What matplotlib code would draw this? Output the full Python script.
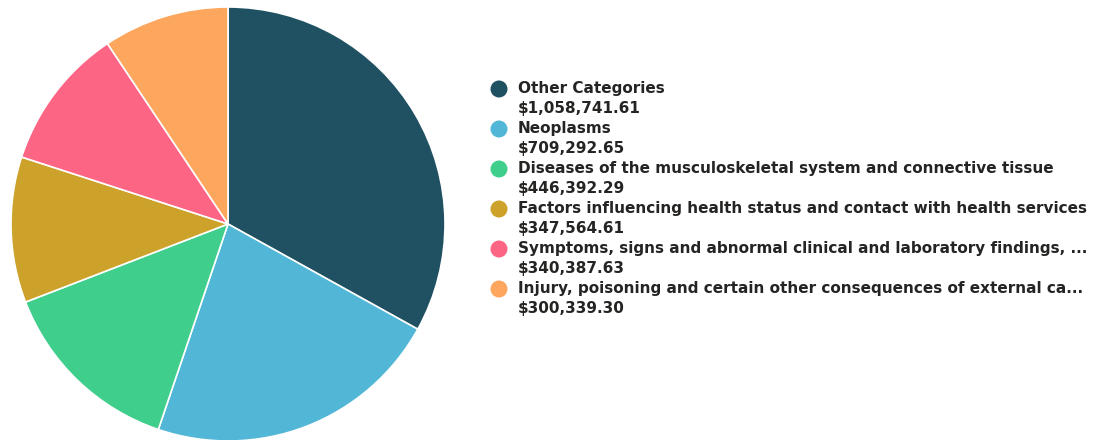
import matplotlib
matplotlib.use("Agg")
import matplotlib.pyplot as plt

categories = [
    "Other Categories",
    "Neoplasms",
    "Diseases of the musculoskeletal system and connective tissue",
    "Factors influencing health status and contact with health services",
    "Symptoms, signs and abnormal clinical and laboratory findings, ...",
    "Injury, poisoning and certain other consequences of external ca...",
]
values = [1058741.61, 709292.65, 446392.29, 347564.61, 340387.63, 300339.30]
colors = ["#1F5163", "#52B7D6", "#40CE8D", "#CCA22A", "#FD6585", "#FDA65D"]

W, H = 1099, 440
fig = plt.figure(figsize=(W / 100, H / 100), dpi=100)
fig.patch.set_facecolor("white")

cx, cy, r = 228, 224, 217
ax = fig.add_axes([(cx - r) / W, (H - cy - r) / H, 2 * r / W, 2 * r / H])
ax.pie(values, colors=colors, startangle=90, counterclock=False, radius=1.0,
       wedgeprops=dict(edgecolor="white", linewidth=1.2))
ax.set_xlim(-1, 1)
ax.set_ylim(-1, 1)
ax.set_aspect("equal")
ax.axis("off")

lax = fig.add_axes([0, 0, 1, 1])
lax.set_xlim(0, W)
lax.set_ylim(H, 0)
lax.axis("off")

y0, step = 89, 20
for i, (c, v, col) in enumerate(zip(categories, values, colors)):
    y = y0 + 2 * i * step
    lax.scatter([499], [y], s=150, color=col, edgecolors="none")
    lax.text(518, y, c, fontsize=11.0, fontweight="bold", color="#252423",
             va="center", ha="left", family="DejaVu Sans")
    lax.text(518, y + step, "${:,.2f}".format(v), fontsize=11.0, fontweight="bold",
             color="#252423", va="center", ha="left", family="DejaVu Sans")

fig.savefig("out.png", dpi=100, facecolor="white")
